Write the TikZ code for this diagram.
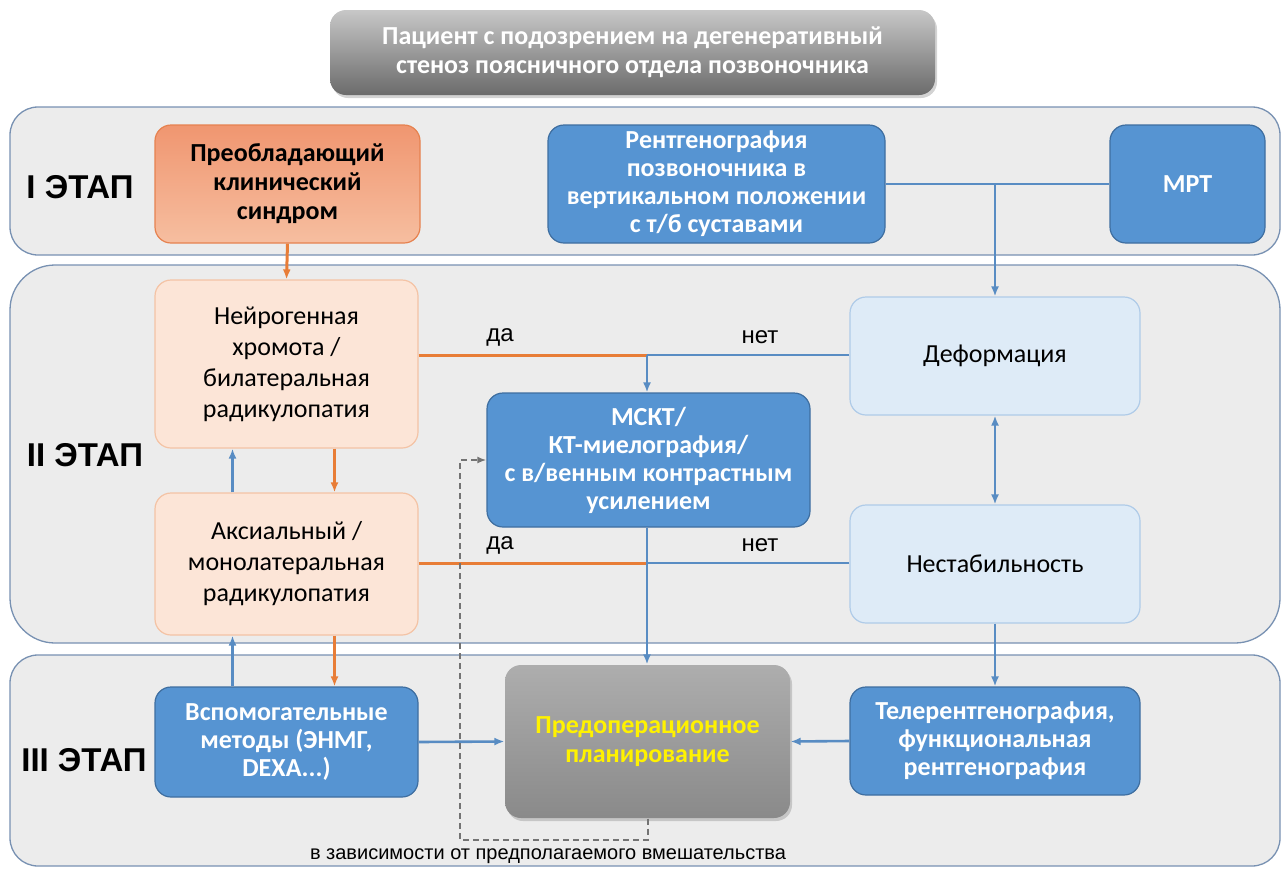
\documentclass[tikz,border=0pt]{standalone}
\usepackage{fontspec}
\setmainfont{Carlito}
\newfontfamily\arialFont{Liberation Sans}
\usepackage{tikz}
\usetikzlibrary{calc}
\usetikzlibrary{arrows.meta}
\usetikzlibrary{positioning}
\usetikzlibrary{shadows}

\definecolor{BoxBlue}{RGB}{86,148,210}
\definecolor{BoxBlueLine}{RGB}{62,110,160}
\definecolor{PaleBlue}{RGB}{222,235,247}
\definecolor{PaleBlueLine}{RGB}{175,203,232}
\definecolor{Peach}{RGB}{252,229,215}
\definecolor{PeachLine}{RGB}{244,195,165}
\definecolor{SalmonTop}{RGB}{240,150,112}
\definecolor{SalmonBot}{RGB}{246,190,160}
\definecolor{SalmonLine}{RGB}{230,130,80}
\definecolor{LineOrange}{RGB}{232,125,55}
\definecolor{LineBlue}{RGB}{88,140,195}
\definecolor{BandFill}{RGB}{236,236,236}
\definecolor{BandLine}{RGB}{120,145,178}

\tikzset{
	band/.style={draw=BandLine, fill=BandFill, line width=1.3pt, rounded corners=28pt},
	baseBox/.style={rounded corners=16pt, align=center, inner sep=0pt, line width=1.2pt},
	blueBox/.style={baseBox, draw=BoxBlueLine, fill=BoxBlue, text=white,
		font=\bfseries\fontsize{26}{28}\selectfont},
	paleBox/.style={baseBox, draw=PaleBlueLine, fill=PaleBlue,
		font=\fontsize{26}{31}\selectfont},
	peachBox/.style={baseBox, draw=PeachLine, fill=Peach,
		font=\fontsize{26}{31}\selectfont},
	salmonBox/.style={baseBox, draw=SalmonLine, top color=SalmonTop, bottom color=SalmonBot,
		font=\bfseries\fontsize{26}{29}\selectfont},
	grayBox/.style={baseBox, draw=none, drop shadow={opacity=0.35, shadow xshift=2pt, shadow yshift=-3pt},
		font=\bfseries\fontsize{26}{29}\selectfont},
	stageLabel/.style={font=\arialFont\bfseries\fontsize{33}{36}\selectfont},
	answer/.style={font=\arialFont\fontsize{24}{26}\selectfont},
	blueLine/.style={draw=LineBlue, line width=2.6pt},
	orangeLine/.style={draw=LineOrange, line width=3pt},
	blueArrow/.style={blueLine, -{Latex[length=10pt,width=8pt]}},
	orangeArrow/.style={orangeLine, -{Latex[length=10pt,width=8pt]}},
	dashArrow/.style={draw=black!55, line width=2pt, dash pattern=on 6pt off 4pt, -{Latex[length=9pt,width=7pt]}}
}

\begin{document}
\begin{tikzpicture}[x=1pt, y=-1pt]
	\useasboundingbox (0,0) rectangle (1288,868);
	
	% stage bands
	\draw [band] (10,107) rectangle (1280,255);
	\draw [band, rounded corners=45pt] (10,265) rectangle (1280,643);
	\draw [band] (10,655) rectangle (1280,866);
	
	\node [stageLabel] (st1) at (80,187) {I ЭТАП};
	\node [stageLabel] (st2) at (85,455) {II ЭТАП};
	\node [stageLabel] (st3) at (84,760) {III ЭТАП};
	
	% boxes
	\node [grayBox, top color=black!22, bottom color=black!58, text=white,
		minimum width=605pt, minimum height=85pt] (head) at (632.5,52.5)
		{Пациент с подозрением на дегенеративный\\стеноз поясничного отдела позвоночника};
	\node [salmonBox, minimum width=265pt, minimum height=118pt] (syndrome) at (287.5,184)
		{Преобладающий\\клинический\\синдром};
	\node [blueBox, minimum width=337pt, minimum height=118pt] (xray) at (716.5,184)
		{Рентгенография\\позвоночника в\\вертикальном положении\\с т/б суставами};
	\node [blueBox, minimum width=155pt, minimum height=118pt] (mrt) at (1187.5,184) {МРТ};
	
	\node [peachBox, minimum width=263pt, minimum height=168pt] (neuro) at (286.5,364)
		{Нейрогенная\\хромота /\\билатеральная\\радикулопатия};
	\node [peachBox, minimum width=263pt, minimum height=142pt] (axial) at (286.5,564)
		{Аксиальный /\\монолатеральная\\радикулопатия};
	\node [paleBox, minimum width=290pt, minimum height=118pt] (deform) at (995,356) {Деформация};
	\node [paleBox, minimum width=290pt, minimum height=118pt] (instab) at (995,564) {Нестабильность};
	\node [blueBox, minimum width=323pt, minimum height=134pt] (msct) at (648.5,460)
		{МСКТ/\\КТ-миелография/\\с в/венным контрастным\\усилением};
	
	\node [blueBox, minimum width=263pt, minimum height=110pt] (aux) at (286.5,742)
		{Вспомогательные\\методы (ЭНМГ,\\DEXA...)};
	\node [grayBox, top color=black!32, bottom color=black!46, text=yellow,
		minimum width=285pt, minimum height=153pt] (preop) at (647.5,741.5)
		{Предоперационное\\планирование};
	\node [blueBox, minimum width=290pt, minimum height=108pt] (tele) at (995,741)
		{Телерентгенография,\\функциональная\\рентгенография};
	
	% connectors
	\draw [blueLine] (xray.east) -- (mrt.west);
	\coordinate (xrayJoin) at (deform.north |- xray.east);
	\draw [blueArrow] (xrayJoin) -- (deform.north);
	\draw [orangeArrow] (syndrome.south) -- (neuro.north);
	
	\coordinate (topJoin) at (647,355);
	\draw [orangeLine] (topJoin -| neuro.east) -- (topJoin);
	\draw [blueLine] (topJoin -| deform.west) -- (topJoin);
	\draw [blueArrow] (topJoin) -- (topJoin |- msct.north);
	\node [answer] (yes1) at (500,337) {да};
	\node [answer] (no1) at (760,337) {нет};
	
	\draw [orangeArrow] ($(neuro.south)+(48,0)$) -- ($(axial.north)+(48,0)$);
	\draw [blueArrow] ($(axial.north)+(-54,0)$) -- ($(neuro.south)+(-54,0)$);
	\draw [blueLine, {Latex[length=10pt,width=8pt]}-{Latex[length=10pt,width=8pt]}] (deform.south) -- (instab.north);
	
	\coordinate (botJoin) at (647,563);
	\draw [orangeLine] (botJoin -| axial.east) -- (botJoin);
	\draw [blueLine] (botJoin -| instab.west) -- (botJoin);
	\draw [blueArrow] (msct.south -| botJoin) -- (preop.north -| botJoin);
	\node [answer] (yes2) at (500,545) {да};
	\node [answer] (no2) at (760,545) {нет};
	
	\draw [orangeArrow] ($(axial.south)+(48,0)$) -- ($(aux.north)+(48,0)$);
	\draw [blueArrow] ($(aux.north)+(-54,0)$) -- ($(axial.south)+(-54,0)$);
	\draw [blueArrow] (instab.south) -- (tele.north);
	\draw [blueArrow] (aux.east) -- (preop.west);
	\draw [blueArrow] (tele.west) -- (preop.east);
	
	\coordinate (dashCorner) at (460,840);
	\draw [dashArrow] (preop.south) |- (dashCorner) |- (msct.west);
	\node [font=\arialFont\fontsize{20}{22}\selectfont] (note) at (548,856)
		{в зависимости от предполагаемого вмешательства};
\end{tikzpicture}
\end{document}
